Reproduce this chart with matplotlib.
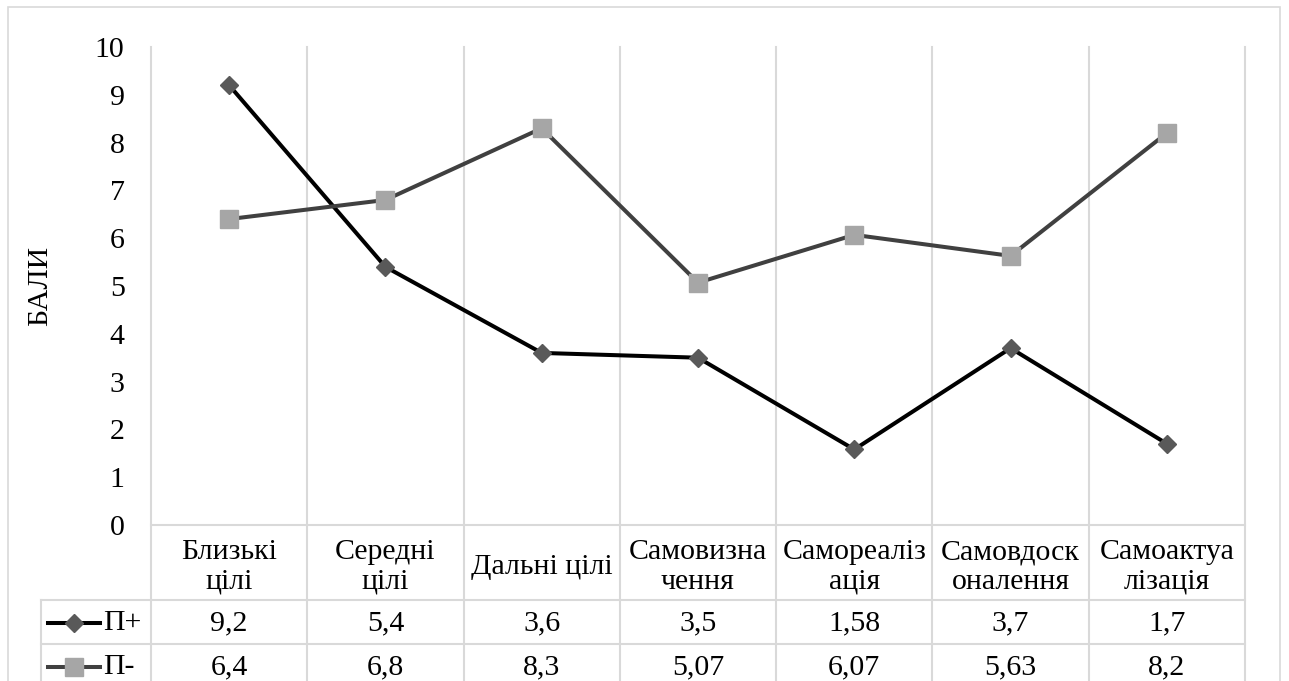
import matplotlib
matplotlib.use("Agg")
import matplotlib.pyplot as plt
import matplotlib.transforms as mtransforms
from matplotlib.patches import Rectangle

categories = ["Близькі\nцілі", "Середні\nцілі", "Дальні цілі", "Самовизна\nчення",
              "Самореаліз\nація", "Самовдоск\nоналення", "Самоактуа\nлізація"]
p_plus = [9.2, 5.4, 3.6, 3.5, 1.58, 3.7, 1.7]
p_minus = [6.4, 6.8, 8.3, 5.07, 6.07, 5.63, 8.2]
series_names = ["П+", "П-"]
y_label = "БАЛИ"
y_ticks = list(range(0, 11))

W, H = 1289, 681
plt.rcParams['font.family'] = ['Liberation Serif', 'DejaVu Serif']
FS = 21.5
GRID = "#D9D9D9"

fig = plt.figure(figsize=(W / 100, H / 100), dpi=100)
fig.patches.append(Rectangle((8 / W, -0.1), (1280 - 8) / W, 1.1 - 7 / H, transform=fig.transFigure,
                             fill=False, edgecolor=GRID, lw=1.2))

ax_l, ax_r, ax_t, ax_b = 151, 1245, 47, 525
ax = fig.add_axes([ax_l / W, 1 - ax_b / H, (ax_r - ax_l) / W, (ax_b - ax_t) / H])
n = len(categories)
ax.set_xlim(-0.5, n - 0.5)
ax.set_ylim(0, 10)
ax.set_yticks(y_ticks)
ax.set_yticklabels([str(t) for t in y_ticks], fontsize=FS)
ax.tick_params(axis='y', length=0, pad=19)
ax.set_xticks([])
for s in ax.spines.values():
    s.set_visible(False)
fig.text(40 / W, 1 - 286 / H, y_label, rotation=90, ha='center', va='center', fontsize=FS)

colw = (ax_r - ax_l) / n
axh = ax_b - ax_t
def px2x(px):
    return -0.5 + (px - ax_l) / colw
def py2y(py):
    return (ax_b - py) / axh

blend = mtransforms.blended_transform_factory(ax.transData, ax.transAxes)
y_top = 1.0
y_cat = py2y(600)
y_r1 = py2y(644)
y_r2 = py2y(700)
x_leg = px2x(41)

# vertical grid / table lines
for i in range(n + 1):
    ax.plot([i - 0.5, i - 0.5], [y_top, y_r2], color=GRID, lw=1.5, transform=blend, clip_on=False, zorder=1)
ax.plot([x_leg, x_leg], [y_cat, y_r2], color=GRID, lw=1.5, transform=blend, clip_on=False, zorder=1)
# horizontal lines
ax.plot([-0.5, n - 0.5], [0, 0], color=GRID, lw=1.5, transform=blend, clip_on=False, zorder=1)
for yy in (y_cat, y_r1):
    ax.plot([x_leg, n - 0.5], [yy, yy], color=GRID, lw=1.5, transform=blend, clip_on=False, zorder=1)

xs = list(range(n))
style_plus = dict(color="#000000", lw=2.9, marker="D", markersize=9.5, markerfacecolor="#595959",
                  markeredgecolor="#595959")
style_minus = dict(color="#404040", lw=2.9, marker="s", markersize=12.5, markerfacecolor="#A6A6A6",
                   markeredgecolor="#A6A6A6")
ax.plot(xs, p_plus, zorder=3, **style_plus)
ax.plot(xs, p_minus, zorder=3, **style_minus)

# category labels
for i, c in enumerate(categories):
    ax.text(i, py2y(567), c, transform=blend, ha='center', va='center', fontsize=FS,
            linespacing=1.17, clip_on=False)

def fmt(v):
    return f"{v:g}".replace('.', ',')

rows = [(p_plus, style_plus, py2y(623)), (p_minus, style_minus, py2y(667))]
for (vals, st, yc), name in zip(rows, series_names):
    for i, v in enumerate(vals):
        ax.text(i, yc, fmt(v), transform=blend, ha='center', va='center', fontsize=FS, clip_on=False)
    ax.plot([px2x(48), px2x(100)], [yc, yc], transform=blend, clip_on=False, color=st['color'], lw=st['lw'])
    ax.plot([px2x(74)], [yc], transform=blend, clip_on=False, linestyle='none', marker=st['marker'],
            markersize=st['markersize'], markerfacecolor=st['markerfacecolor'],
            markeredgecolor=st['markeredgecolor'])
    ax.text(px2x(103), yc, name, transform=blend, ha='left', va='center', fontsize=FS, clip_on=False)

fig.savefig("out.png", dpi=100)
